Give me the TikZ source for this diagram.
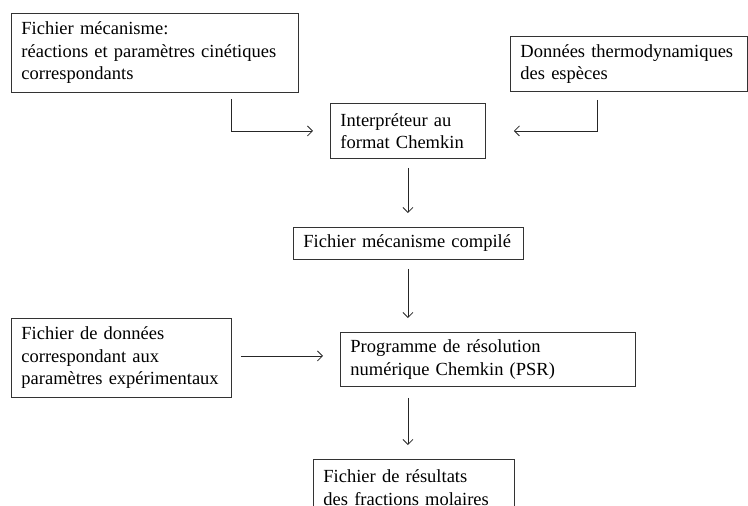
\documentclass[tikz,border=0pt]{standalone}
\usepackage{fontspec}
\setmainfont{Liberation Serif}[WordSpace=1.6]
\usetikzlibrary{arrows.meta,calc}

\begin{document}
\begin{tikzpicture}[x=1pt,y=-1pt,
  >={Straight Barb[length=5pt,width=10pt]},
  boite/.style={draw=black!80,line width=0.9pt,anchor=north west,align=left,
    inner xsep=10pt,inner ysep=0pt,font=\fontsize{18.5}{22.5}\selectfont},
  flux/.style={->,draw=black!85,line width=0.8pt}]
\path[use as bounding box,clip] (0,0) rectangle (748,506);
% entrees
\node[boite,minimum width=287pt,text width=267pt,minimum height=79pt] (mec) at (11,13)
  {Fichier mécanisme:\\réactions~et~paramètres~cinétiques\\correspondants};
\node[boite,minimum width=237pt,text width=217pt,minimum height=55pt] (thermo) at (510,36)
  {Données~thermodynamiques\\des espèces};
\node[boite,minimum width=155pt,text width=135pt,minimum height=55pt] (interp) at (330,103)
  {Interpréteur~au\\format~Chemkin};
\node[boite,minimum width=230pt,text width=210pt,minimum height=32pt] (comp) at (293,227)
  {Fichier~mécanisme~compilé};
% calcul
\node[boite,minimum width=220pt,text width=200pt,minimum height=79pt] (data) at (11,318)
  {Fichier~de~données\\correspondant~aux\\paramètres~expérimentaux};
\node[boite,minimum width=295pt,text width=275pt,minimum height=54pt] (psr) at (340,332)
  {Programme~de~résolution\\numérique~Chemkin~(PSR)};
\node[boite,minimum width=201pt,text width=181pt,minimum height=56pt] (res) at (313,459)
  {Fichier~de~résultats\\des~fractions~molaires};
% fleches
\draw[flux] ([xshift=220pt,yshift=-6pt]mec.south west) |- ([xshift=-17pt]interp.west);
\draw[flux] ([xshift=87pt,yshift=-8pt]thermo.south west) |- ([xshift=28pt]interp.east);
\draw[flux,shorten <=9pt,shorten >=14pt] (interp.south) -- (interp.south |- comp.north);
\draw[flux,shorten <=9pt,shorten >=14pt] (interp.south |- comp.south) -- (interp.south |- psr.north);
\draw[flux,shorten <=9pt,shorten >=17pt] ([yshift=2pt]data.east) -- ([yshift=2pt]data.east -| psr.west);
\draw[flux,shorten <=11pt,shorten >=14pt] (interp.south |- psr.south) -- (interp.south |- res.north);
\end{tikzpicture}
\end{document}
